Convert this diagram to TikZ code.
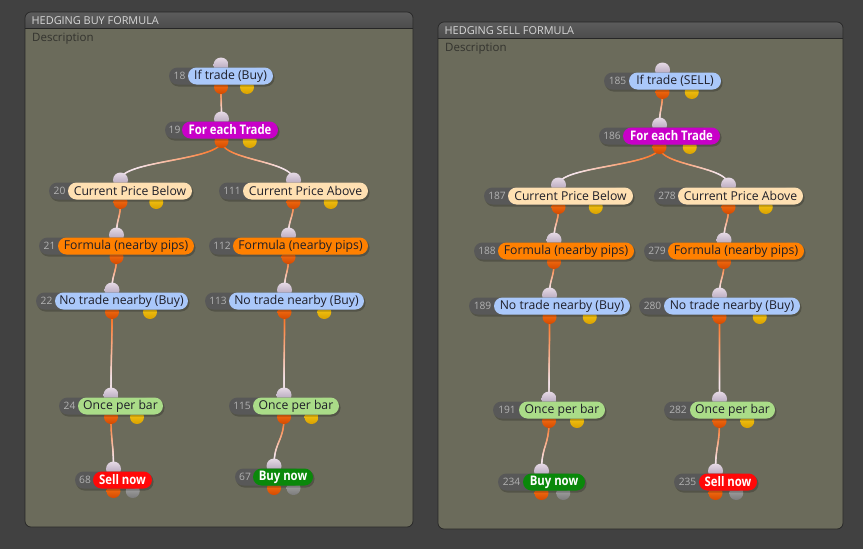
\documentclass[tikz,border=0pt]{standalone}
\usepackage{fontspec}
\setmainfont{Open Sans}
\newfontfamily\condbold{Open Sans}[FakeStretch=0.86]
\usetikzlibrary{calc,decorations.markings}
\definecolor{bgc}{HTML}{414141}
\definecolor{panelBody}{HTML}{6B6B5B}
\definecolor{hdrTop}{HTML}{5C5C5C}
\definecolor{hdrBot}{HTML}{4C4C4C}
\definecolor{panelEdge}{HTML}{262626}
\definecolor{titleText}{HTML}{D6D6D6}
\definecolor{descText}{HTML}{33332E}
\definecolor{idpill}{HTML}{585858}
\definecolor{numGray}{HTML}{B2B2B2}
\definecolor{pillBlue}{HTML}{AAC8FA}
\definecolor{pillMag}{HTML}{C800C8}
\definecolor{pillPeach}{HTML}{FFE0B2}
\definecolor{pillOrange}{HTML}{FF8000}
\definecolor{pillGreen}{HTML}{AADC88}
\definecolor{pillRed}{HTML}{FF0808}
\definecolor{pillDGreen}{HTML}{0A880A}
\definecolor{txtDark}{HTML}{1E1E28}
\definecolor{pinTop}{HTML}{E6DAE6}
\definecolor{pinBot}{HTML}{A898B0}
\definecolor{poutTop}{HTML}{FF7A1A}
\definecolor{poutBot}{HTML}{D44A00}
\definecolor{pyTop}{HTML}{FFD21A}
\definecolor{pyBot}{HTML}{D8A000}
\definecolor{pgTop}{HTML}{B0B0B0}
\definecolor{pgBot}{HTML}{7A7A7A}
\definecolor{connOrange}{HTML}{FF6A10}
\definecolor{connPink}{HTML}{F6E4EA}
\pgfdeclarelayer{bg}
\pgfdeclarelayer{back}
\pgfsetlayers{bg,back,main}
\newcommand\gnode[9]{%
  \pgfmathsetmacro\gnX{(#2+#4)/2}%
  \pgfmathsetmacro\gnP{#2+0.75*(#4-#2)}%
  \pgfmathsetmacro\gnC{(#3+#4)/2}%
  \pgfmathsetmacro\gnW{#4-#3}%
  \pgfmathsetmacro\gnD{(#2+#3)/2+1}%
  \coordinate (#1-in) at (\gnX,#5-11);
  \coordinate (#1-out) at (\gnX,#5+11);
  \coordinate (#1-out2) at (\gnP,#5+11);
  \shade[portIn] (#1-in) circle (7.5pt);
  \shade[portOut] (#1-out) circle (7pt);
  \shade[#9] (#1-out2) circle (7pt);
  \fill[black,opacity=.22,rounded corners=8.5pt] (#2+1,#5-7) rectangle (#4+1.5,#5+10.5);
  \fill[idpill,rounded corners=8.5pt] (#2,#5-8.5) rectangle (#4-10,#5+8.5);
  \node[numtext] (#1-num) at (\gnD,#5) {#6};
  \node[pill,#8,minimum width=\gnW pt] (#1) at (\gnC,#5) {#7};
}
\newcommand\gnconn[2]{%
  \path[conn] let \p1=(#1), \p2=(#2) in
    (#1) .. controls (\x1,{0.5*(\y1+\y2)}) and (\x2,{0.5*(\y1+\y2)}) .. (#2);
}
\newcommand\gnpanel[6]{%
  \fill[panelBody,rounded corners=6pt] (#1,#2) rectangle (#3,#4);
  \begin{scope}
    \clip[rounded corners=6pt] (#1,#2) rectangle (#3,#4);
    \shade[top color=hdrTop,bottom color=hdrBot] (#1,#2) rectangle (#3,#2+16.5);
  \end{scope}
  \draw[black!85,line width=0.8pt] (#1,#2+16.5) -- (#3,#2+16.5);
  \draw[panelEdge,line width=0.7pt,rounded corners=6pt] (#1,#2) rectangle (#3,#4);
  \node[gnTitle,anchor=west] (#6-title) at (#1+6.5,#2+8.7) {#5};
  \node[gnDesc,anchor=west] (#6-desc) at (#1+7,#2+27) {Description};
}
\begin{document}
\begin{tikzpicture}[x=1pt,y=-1pt,
  portIn/.style={top color=pinTop,bottom color=pinBot},
  portOut/.style={top color=poutTop,bottom color=poutBot},
  portY/.style={top color=pyTop,bottom color=pyBot},
  portG/.style={top color=pgTop,bottom color=pgBot},
  portNone/.style={opacity=0},
  pill/.style={rounded corners=8.5pt,minimum height=17pt,inner sep=0pt,
    font=\fontsize{12.2}{14}\selectfont,text=txtDark},
  numtext/.style={inner sep=0pt,font=\fontsize{10.2}{11}\selectfont,text=numGray},
  boldpill/.style={text=white,font=\condbold\bfseries\fontsize{13.2}{15}\selectfont},
  pBlue/.style={fill=pillBlue},
  pMag/.style={fill=pillMag,boldpill},
  pPeach/.style={fill=pillPeach},
  pOrange/.style={fill=pillOrange},
  pGreen/.style={fill=pillGreen},
  pRed/.style={fill=pillRed,boldpill},
  pDGreen/.style={fill=pillDGreen,boldpill},
  gnTitle/.style={inner sep=0pt,text=titleText,font=\fontsize{10.9}{12}\selectfont},
  gnDesc/.style={inner sep=0pt,text=descText,font=\fontsize{11.5}{13}\selectfont},
  conn/.style={decorate,decoration={markings,
    mark=between positions 0 and 1 step 0.5pt with {%
      \pgfmathsetmacro\gnT{min(100,max(0,125*\pgfkeysvalueof{/pgf/decoration/mark info/distance from start}/\pgfdecoratedpathlength))}%
      \fill[connPink!\gnT!connOrange] (0,0) circle (0.85pt);}}}
]
\useasboundingbox (0,0) rectangle (863,549);
\begin{pgfonlayer}{bg}
  \fill[bgc] (0,0) rectangle (863,549);
  \gnpanel{25}{12}{413}{527}{HEDGING BUY FORMULA}{pl}
  \gnpanel{438}{22}{843}{529}{HEDGING SELL FORMULA}{pr}
\end{pgfonlayer}

% left panel
\gnode{n18}{169}{188}{273}{76}{18}{If trade (Buy)}{pBlue}{portY}
\gnode{n19}{165}{182}{278}{130}{19}{For each Trade}{pMag}{portY}
\gnode{n20}{49}{68}{192}{191}{20}{Current Price Below}{pPeach}{portY}
\gnode{n111}{219}{243}{368}{191}{111}{Current Price Above}{pPeach}{portY}
\gnode{n21}{39}{58}{194}{246}{21}{Formula (nearby pips)}{pOrange}{portNone}
\gnode{n112}{209}{233}{368}{246}{112}{Formula (nearby pips)}{pOrange}{portNone}
\gnode{n22}{36}{55}{188}{301}{22}{No trade nearby (Buy)}{pBlue}{portY}
\gnode{n113}{205}{229}{364}{301}{113}{No trade nearby (Buy)}{pBlue}{portY}
\gnode{n24}{59}{78}{163}{406}{24}{Once per bar}{pGreen}{portY}
\gnode{n115}{229}{253}{339}{406}{115}{Once per bar}{pGreen}{portY}
\gnode{n68}{75}{93}{152}{480}{68}{Sell now}{pRed}{portG}
\gnode{n67}{235}{253}{313}{477}{67}{Buy now}{pDGreen}{portG}

% right panel
\gnode{n185}{604}{629}{721}{81}{185}{If trade (SELL)}{pBlue}{portY}
\gnode{n186}{599}{623}{720}{136}{186}{For each Trade}{pMag}{portY}
\gnode{n187}{484}{508}{633}{196}{187}{Current Price Below}{pPeach}{portY}
\gnode{n278}{654}{678}{803}{196}{278}{Current Price Above}{pPeach}{portY}
\gnode{n188}{474}{498}{634}{251}{188}{Formula (nearby pips)}{pOrange}{portNone}
\gnode{n279}{644}{668}{804}{251}{279}{Formula (nearby pips)}{pOrange}{portNone}
\gnode{n189}{469}{494}{630}{306}{189}{No trade nearby (Buy)}{pBlue}{portY}
\gnode{n280}{639}{664}{800}{306}{280}{No trade nearby (Buy)}{pBlue}{portY}
\gnode{n191}{493}{519}{605}{410}{191}{Once per bar}{pGreen}{portY}
\gnode{n282}{664}{690}{775}{410}{282}{Once per bar}{pGreen}{portY}
\gnode{n234}{498}{523}{585}{482}{234}{Buy now}{pDGreen}{portG}
\gnode{n235}{674}{699}{757}{482}{235}{Sell now}{pRed}{portG}

\begin{pgfonlayer}{back}
  \gnconn{n18-out}{n19-in}
  \gnconn{n19-out}{n20-in}
  \gnconn{n19-out}{n111-in}
  \gnconn{n20-out}{n21-in}
  \gnconn{n111-out}{n112-in}
  \gnconn{n21-out}{n22-in}
  \gnconn{n112-out}{n113-in}
  \gnconn{n22-out}{n24-in}
  \gnconn{n113-out}{n115-in}
  \gnconn{n24-out}{n68-in}
  \gnconn{n115-out}{n67-in}
  \gnconn{n185-out}{n186-in}
  \gnconn{n186-out}{n187-in}
  \gnconn{n186-out}{n278-in}
  \gnconn{n187-out}{n188-in}
  \gnconn{n278-out}{n279-in}
  \gnconn{n188-out}{n189-in}
  \gnconn{n279-out}{n280-in}
  \gnconn{n189-out}{n191-in}
  \gnconn{n280-out}{n282-in}
  \gnconn{n191-out}{n234-in}
  \gnconn{n282-out}{n235-in}
\end{pgfonlayer}
\end{tikzpicture}
\end{document}
